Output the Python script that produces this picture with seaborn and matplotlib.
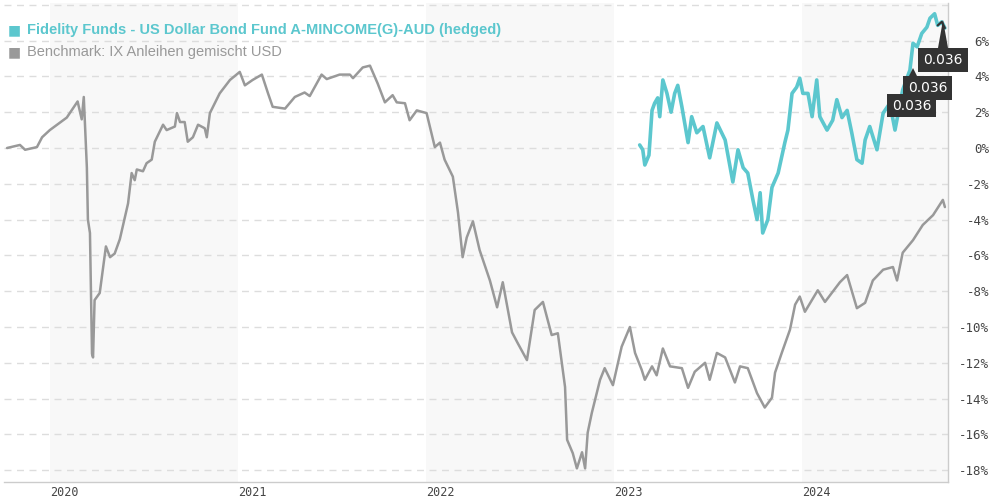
import matplotlib
matplotlib.use("Agg")
import matplotlib.pyplot as plt
from matplotlib.patches import Polygon
import seaborn as sns
import pandas as pd

# benchmark: IX Anleihen gemischt USD (performance in %)
bench_dates = [
    "2019-10-10", "2019-11-04", "2019-11-14", "2019-12-07", "2019-12-17",
    "2020-01-01", "2020-02-03", "2020-02-24", "2020-03-03", "2020-03-07",
    "2020-03-13", "2020-03-15", "2020-03-19", "2020-03-23", "2020-03-25",
    "2020-03-28", "2020-04-07", "2020-04-19", "2020-04-27", "2020-05-06",
    "2020-05-16", "2020-05-26", "2020-06-01", "2020-06-08", "2020-06-14",
    "2020-06-18", "2020-06-30", "2020-07-07", "2020-07-17", "2020-07-23",
    "2020-08-08", "2020-08-15", "2020-08-31", "2020-09-04", "2020-09-10",
    "2020-09-19", "2020-09-25", "2020-10-05", "2020-10-15", "2020-10-28",
    "2020-11-01", "2020-11-07", "2020-11-26", "2020-12-16", "2021-01-04",
    "2021-01-14", "2021-01-29", "2021-02-16", "2021-02-28", "2021-03-09",
    "2021-04-02", "2021-04-21", "2021-05-10", "2021-05-20", "2021-06-12",
    "2021-06-22", "2021-07-17", "2021-08-06", "2021-08-12", "2021-08-31",
    "2021-09-14", "2021-09-29", "2021-10-13", "2021-10-28", "2021-11-05",
    "2021-11-21", "2021-11-30", "2021-12-14", "2022-01-02", "2022-01-18",
    "2022-01-28", "2022-02-06", "2022-02-22", "2022-03-04", "2022-03-13",
    "2022-03-21", "2022-04-02", "2022-04-15", "2022-05-05", "2022-05-19",
    "2022-05-30", "2022-06-17", "2022-06-28", "2022-07-16", "2022-07-31",
    "2022-08-16", "2022-09-02", "2022-09-14", "2022-09-28", "2022-10-02",
    "2022-10-13", "2022-10-21", "2022-10-31", "2022-11-06", "2022-11-11",
    "2022-11-19", "2022-12-05", "2022-12-14", "2022-12-30", "2023-01-16",
    "2023-02-01", "2023-02-11", "2023-02-24", "2023-03-02", "2023-03-16",
    "2023-03-25", "2023-04-06", "2023-04-20", "2023-05-13", "2023-05-25",
    "2023-06-07", "2023-06-27", "2023-07-06", "2023-07-20", "2023-08-05",
    "2023-08-24", "2023-09-03", "2023-09-18", "2023-10-06", "2023-10-21",
    "2023-11-04", "2023-11-10", "2023-11-23", "2023-12-09", "2023-12-19",
    "2023-12-28", "2024-01-07", "2024-02-01", "2024-02-15", "2024-03-15",
    "2024-03-29", "2024-04-17", "2024-05-03", "2024-05-18", "2024-06-07",
    "2024-06-26", "2024-07-04", "2024-07-15", "2024-08-04", "2024-08-23",
    "2024-09-12", "2024-10-01", "2024-10-05",
]
bench_values = [
    0.0, 0.17, -0.1, 0.05, 0.6,
    1.0, 1.7, 2.6, 1.6, 2.85,
    -1.1, -4.0, -4.75, -11.5, -11.7,
    -8.5, -8.1, -5.5, -6.1, -5.9,
    -5.1, -3.85, -3.1, -1.4, -1.8,
    -1.2, -1.3, -0.85, -0.65, 0.35,
    1.3, 1.0, 1.2, 1.95, 1.45,
    1.45, 0.35, 0.6, 1.3, 1.1,
    0.6, 1.95, 3.05, 3.8, 4.25,
    3.5, 3.8, 4.1, 3.05, 2.3,
    2.2, 2.85, 3.1, 2.9, 4.1,
    3.85, 4.1, 4.1, 3.9, 4.5,
    4.6, 3.6, 2.55, 2.95, 2.55,
    2.5, 1.55, 2.1, 1.95, 0.05,
    0.3, -0.65, -1.6, -3.6, -6.1,
    -5.0, -4.1, -5.7, -7.4, -8.9,
    -7.5, -10.3, -10.9, -11.85, -9.05,
    -8.6, -10.45, -10.35, -13.35, -16.3,
    -17.05, -17.9, -17.0, -17.9, -15.9,
    -14.8, -12.95, -12.3, -13.25, -11.1,
    -10.0, -11.45, -12.4, -12.95, -12.2,
    -12.7, -11.2, -12.2, -12.3, -13.4,
    -12.5, -12.0, -12.95, -11.45, -11.7,
    -13.1, -12.2, -12.3, -13.7, -14.5,
    -13.95, -12.55, -11.45, -10.15, -8.75,
    -8.3, -9.15, -7.95, -8.6, -7.5,
    -7.1, -8.95, -8.65, -7.4, -6.8,
    -6.65, -7.4, -5.85, -5.15, -4.3,
    -3.75, -2.9, -3.3,
]

# fund: Fidelity Funds - US Dollar Bond Fund A-MINCOME(G)-AUD (hedged)
fund_dates = [
    "2023-02-20", "2023-02-26", "2023-03-02", "2023-03-10", "2023-03-16",
    "2023-03-21", "2023-03-27", "2023-03-31", "2023-04-06", "2023-04-14",
    "2023-04-22", "2023-04-29", "2023-05-05", "2023-05-13", "2023-05-25",
    "2023-06-01", "2023-06-11", "2023-06-23", "2023-07-06", "2023-07-20",
    "2023-08-05", "2023-08-20", "2023-08-30", "2023-09-09", "2023-09-18",
    "2023-09-28", "2023-10-06", "2023-10-12", "2023-10-17", "2023-10-27",
    "2023-11-04", "2023-11-16", "2023-11-29", "2023-12-05", "2023-12-13",
    "2023-12-22", "2023-12-28", "2024-01-03", "2024-01-13", "2024-01-21",
    "2024-01-30", "2024-02-05", "2024-02-19", "2024-03-01", "2024-03-09",
    "2024-03-19", "2024-03-29", "2024-04-07", "2024-04-17", "2024-04-27",
    "2024-05-03", "2024-05-12", "2024-05-26", "2024-06-07", "2024-06-20",
    "2024-06-30", "2024-07-15", "2024-07-29", "2024-08-04", "2024-08-12",
    "2024-08-21", "2024-08-31", "2024-09-06", "2024-09-15", "2024-09-21",
    "2024-09-29", "2024-10-05",
]
fund_values = [
    0.17, -0.1, -0.95, -0.4, 2.1,
    2.5, 2.8, 1.75, 3.8, 3.05,
    2.0, 3.05, 3.5, 2.3, 0.3,
    1.75, 0.85, 1.2, -0.55, 1.4,
    0.45, -1.9, -0.1, -1.1, -1.4,
    -2.9, -4.0, -2.5, -4.75, -4.0,
    -2.2, -1.4, 0.3, 1.0, 3.05,
    3.4, 3.9, 3.05, 3.05, 1.75,
    3.8, 1.75, 1.0, 1.55, 2.7,
    1.7, 2.1, 0.85, -0.65, -0.85,
    0.45, 1.2, -0.1, 1.95, 2.5,
    1.0, 3.25, 4.35, 5.85, 5.65,
    6.4, 6.75, 7.25, 7.5, 6.85,
    7.05, 6.7,
]

fund_name = "Fidelity Funds - US Dollar Bond Fund A-MINCOME(G)-AUD (hedged)"
bench_name = "Benchmark: IX Anleihen gemischt USD"
y_ticks = list(range(-18, 9, 2))
tooltip_texts = ["0.036", "0.036", "0.036"]

teal = "#5cc7ce"
grey = "#999999"

bench = pd.DataFrame({"date": pd.to_datetime(bench_dates), "value": bench_values})
fund = pd.DataFrame({"date": pd.to_datetime(fund_dates), "value": fund_values})

sns.set_style("white")
fig = plt.figure(figsize=(9.9, 5.0), dpi=100)
ax = fig.add_axes([4 / 990, 18 / 500, 944 / 990, 479 / 500])

# alternating year shading
for yr in [2020, 2022, 2024]:
    ax.axvspan(pd.Timestamp(f"{yr}-01-01"), pd.Timestamp(f"{yr + 1}-01-01"),
               color="#f8f8f8", lw=0, zorder=0)

for t in y_ticks:
    ax.axhline(t, color="#dddddd", lw=1, ls=(0, (5, 4)), zorder=1)

sns.lineplot(data=bench, x="date", y="value", color=grey, lw=1.8, ax=ax, zorder=3)
sns.lineplot(data=fund, x="date", y="value", color=teal, lw=2.6, ax=ax, zorder=4)
ax.plot(fund["date"].iloc[-3:], fund["value"].iloc[-3:], color="#333333", lw=1.5, zorder=5)

ax.set_xlim(pd.Timestamp("2019-10-04"), pd.Timestamp("2024-10-11"))
ax.set_ylim(-18.66, 8.1)
ax.set_xlabel("")
ax.set_ylabel("")

for side in ["left", "top"]:
    ax.spines[side].set_visible(False)
for side in ["right", "bottom"]:
    ax.spines[side].set_color("#cccccc")
    ax.spines[side].set_linewidth(1)
    ax.spines[side].set_zorder(6)

ax.yaxis.tick_right()
ax.set_yticks(y_ticks)
ax.set_yticklabels([f"{t}%" if t < 8 else "" for t in y_ticks])
ax.tick_params(axis="y", length=0, pad=29.5, labelsize=9, labelcolor="#444444")
for lab in ax.get_yticklabels():
    lab.set_horizontalalignment("right")
    lab.set_family("DejaVu Sans Mono")

years = [2020, 2021, 2022, 2023, 2024]
ax.set_xticks([pd.Timestamp(f"{y}-01-01") for y in years])
ax.set_xticklabels([str(y) for y in years])
ax.tick_params(axis="x", length=0, pad=3, labelsize=8.5, labelcolor="#444444")
for lab in ax.get_xticklabels():
    lab.set_horizontalalignment("left")
    lab.set_family("DejaVu Sans Mono")
ax.grid(False)

# legend in the top left corner
fig.text(8 / 990, 1 - 30 / 500, "\u25a0", color=teal, fontsize=10, va="center", family="DejaVu Sans")
fig.text(27 / 990, 1 - 30 / 500, fund_name, color=teal, fontsize=10.5, fontweight="bold",
         va="center", family="Liberation Sans")
fig.text(8 / 990, 1 - 52 / 500, "\u25a0", color=grey, fontsize=10, va="center", family="DejaVu Sans")
fig.text(27 / 990, 1 - 52 / 500, bench_name, color=grey, fontsize=10.5,
         va="center", family="Liberation Sans")

# tooltips at the right end
W, H = 990, 500
pointers = [[(938, 48), (948, 48), (943, 20)], [(909, 76), (917, 76), (913, 68)]]
for pts in pointers:
    fig.patches.append(Polygon([(x / W, 1 - y / H) for x, y in pts], closed=True,
                               transform=fig.transFigure, fc="#333333", ec="none", zorder=7))
boxes = [(918, 48, 50, 24), (903, 76, 49, 24), (887, 94, 49, 23)]
for (bx, by, bw, bh), txt in zip(boxes, tooltip_texts):
    fig.patches.append(plt.Rectangle((bx / W, 1 - (by + bh) / H), bw / W, bh / H,
                                     transform=fig.transFigure, fc="#333333", ec="none", zorder=8))
    fig.text((bx + bw / 2) / W, 1 - (by + bh / 2) / H, txt, color="white", fontsize=10,
             ha="center", va="center", family="DejaVu Sans", zorder=9)

fig.savefig("out.png", dpi=100)
